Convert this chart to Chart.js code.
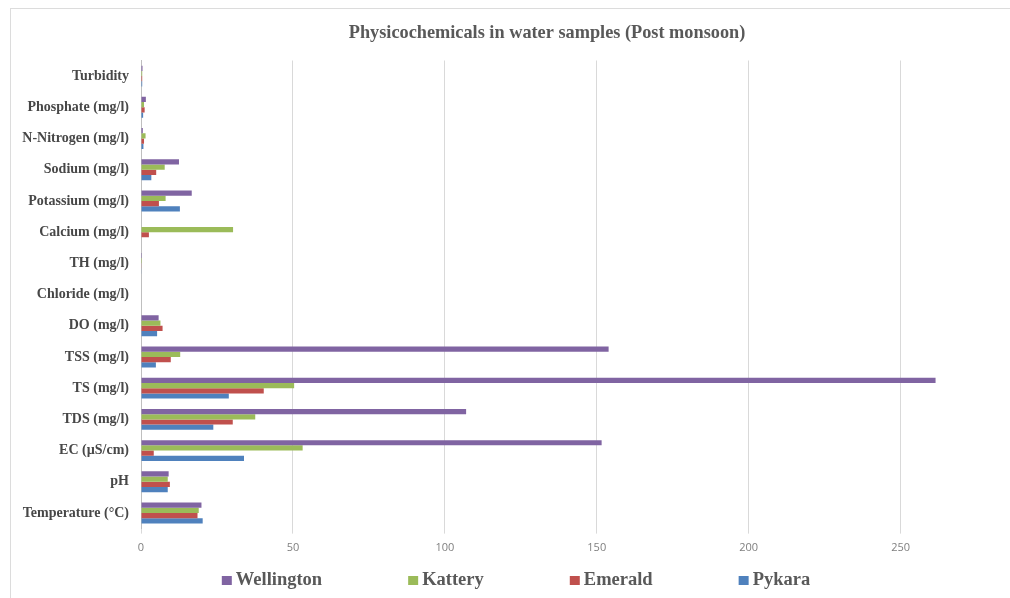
<!DOCTYPE html>
<html>
<head>
<meta charset="utf-8">
<script src="https://cdn.jsdelivr.net/npm/chart.js@4.4.1/dist/chart.umd.min.js"></script>
<style>
  html, body { margin: 0; padding: 0; background: #ffffff; overflow: hidden; }
  #frame { position: absolute; left: 10px; top: 8px; width: 1100px; height: 700px;
           border-left: 1px solid #dcdcdc; border-top: 1px solid #dcdcdc; }
  #wrap { position: absolute; left: 0; top: 0; width: 1010px; height: 598px; }
</style>
</head>
<body>
<div id="frame"></div>
<div id="wrap"><canvas id="c"></canvas></div>
<script>
const categories = ['Turbidity', 'Phosphate (mg/l)', 'N-Nitrogen (mg/l)', 'Sodium (mg/l)', 'Potassium (mg/l)',
  'Calcium (mg/l)', 'TH (mg/l)', 'Chloride (mg/l)', 'DO (mg/l)', 'TSS (mg/l)', 'TS (mg/l)', 'TDS (mg/l)',
  'EC (\u00b5S/cm)', 'pH', 'Temperature (\u00b0C)'];
const seriesNames = ['Wellington', 'Kattery', 'Emerald', 'Pykara'];
const wellington = [0.5, 1.6, 0.6, 12.5, 16.7, 0, 0.3, 0, 5.8, 153.9, 261.5, 107.0, 151.6, 9.1, 19.9];
const kattery    = [0.4, 1.0, 1.5, 7.8, 8.1, 30.3, 0.3, 0, 6.4, 12.9, 50.4, 37.6, 53.2, 8.8, 19.0];
const emerald    = [0.4, 1.2, 1.0, 5.0, 5.9, 2.6, 0.2, 0, 7.1, 9.8, 40.4, 30.2, 4.2, 9.5, 18.6];
const pykara     = [0.4, 0.7, 0.8, 3.4, 12.8, 0, 0.2, 0, 5.3, 4.9, 28.9, 23.8, 33.9, 8.8, 20.3];
const xTickStep = 50;
const xMax = 286;
const colors = ['#8064A2', '#9BBB59', '#C0504D', '#4F81BD'];
const titleText = 'Physicochemicals in water samples (Post monsoon)';

const serif = '"Liberation Serif", "Times New Roman", serif';

const customTitle = {
  id: 'customTitle',
  afterDraw(chart) {
    const ctx = chart.ctx;
    ctx.save();
    ctx.font = 'bold 18.3px ' + serif;
    ctx.fillStyle = '#595959';
    ctx.textAlign = 'center';
    ctx.textBaseline = 'middle';
    ctx.fillText(titleText, 547, 33);
    ctx.restore();
  }
};

const customLegend = {
  id: 'customLegend',
  afterDraw(chart) {
    const ctx = chart.ctx;
    const ds = chart.data.datasets;
    const box = 10, gapText = 4, gapItem = 86, center = 516, yMid = 580;
    ctx.save();
    ctx.font = 'bold 18.5px ' + serif;
    ctx.textBaseline = 'middle';
    ctx.textAlign = 'left';
    const widths = ds.map(d => box + gapText + ctx.measureText(d.label).width);
    const total = widths.reduce((a, b) => a + b, 0) + gapItem * (ds.length - 1);
    let x = center - total / 2;
    ds.forEach((d, i) => {
      ctx.fillStyle = d.backgroundColor;
      ctx.fillRect(x, yMid - 4, box, 9);
      ctx.fillStyle = '#595959';
      ctx.fillText(d.label, x + box + gapText, yMid);
      x += widths[i] + gapItem;
    });
    ctx.restore();
  }
};

const data = {
  labels: categories,
  datasets: [wellington, kattery, emerald, pykara].map((vals, i) => ({
    label: seriesNames[i],
    data: vals,
    backgroundColor: colors[i],
    borderWidth: 0,
    categoryPercentage: 0.67,
    barPercentage: 1.0
  }))
};

new Chart(document.getElementById('c'), {
  type: 'bar',
  data: data,
  plugins: [customTitle, customLegend],
  options: {
    indexAxis: 'y',
    responsive: true,
    maintainAspectRatio: false,
    animation: false,
    layout: { padding: { left: 0, right: 0, top: 60.5, bottom: 40 } },
    plugins: {
      legend: { display: false },
      tooltip: { enabled: false },
      title: { display: false }
    },
    scales: {
      x: {
        type: 'linear',
        min: 0,
        max: xMax,
        afterFit(scale) { scale.height = 598 - 40 - 528.6; },
        ticks: {
          stepSize: xTickStep,
          includeBounds: false,
          color: '#7f7f7f',
          font: { family: '"Open Sans", "Liberation Sans", sans-serif', size: 11 },
          padding: 8
        },
        grid: { color: '#d9d9d9', lineWidth: 1, tickLength: 5, drawTicks: true },
        border: { display: false }
      },
      y: {
        type: 'category',
        afterFit(scale) { scale.width = 141; },
        ticks: {
          color: '#474747',
          font: { family: serif, size: 14, weight: 'bold' },
          padding: 12,
          autoSkip: false
        },
        grid: { display: true, color: 'rgba(0,0,0,0)', drawTicks: false },
        border: { display: true, color: '#bfbfbf', width: 1 }
      }
    }
  }
});
</script>
</body>
</html>
